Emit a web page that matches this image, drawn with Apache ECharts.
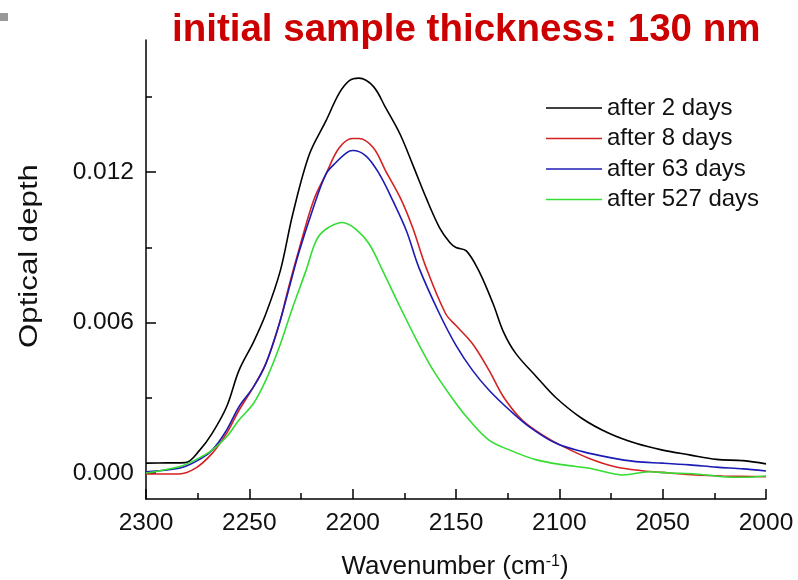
<!DOCTYPE html>
<html>
<head>
<meta charset="utf-8">
<script src="https://cdn.jsdelivr.net/npm/echarts@6/dist/echarts.min.js"></script>
<style>html,body{margin:0;padding:0;background:#fff}#chart{width:798px;height:580px}</style>
</head>
<body>
<div id="chart"></div>
<script>
const titleText = 'initial sample thickness: 130 nm';
const seriesNames = ['after 2 days', 'after 8 days', 'after 63 days', 'after 527 days'];
const xTickValues = [2000, 2050, 2100, 2150, 2200, 2250, 2300];
const yLabelValues = [0, 0.006, 0.012];
const yMinorValues = [0.003, 0.009, 0.015];

const wn2 = [2300,2290,2281,2274,2268,2261,2255,2248,2242,2235,2229,2221,2213,2206.5,2201.6,2197,2190,2184,2177,2171,2164.5,2158,2153,2150,2145,2139,2132,2127,2121,2111,2102,2089,2076,2063,2050,2037,2024,2011,2000];
const od2 = [0.00039,0.00040,0.00041,0.00091,0.00158,0.00264,0.00409,0.00522,0.00635,0.00807,0.01032,0.0127,0.01403,0.01515,0.01565,0.01575,0.01542,0.01456,0.0135,0.01231,0.01098,0.00979,0.00919,0.00899,0.00886,0.00807,0.00674,0.00562,0.00476,0.00383,0.00303,0.00217,0.00158,0.00118,0.00091,0.00072,0.00054,0.00049,0.00036];

const wn8 = [2300,2284,2276,2268,2261,2255,2248,2242,2235.5,2231,2226,2219,2213,2206.5,2200,2197,2190,2184,2177,2171,2164.5,2155,2150,2142,2134,2127,2118,2108,2098,2085.5,2073,2060,2047,2034,2021,2000];
const od8 = [-0.00004,-0.00004,0.00019,0.00078,0.00158,0.0025,0.00343,0.00436,0.00595,0.0074,0.0089,0.01085,0.01191,0.01297,0.01334,0.01334,0.01297,0.01204,0.01098,0.00979,0.0082,0.00635,0.00588,0.00515,0.00409,0.00303,0.00211,0.00151,0.00105,0.00058,0.00025,0.00009,0.0,-0.00008,-0.00012,-0.00015];

const wn63 = [2300,2284,2276,2268,2261,2255,2248,2242,2235.5,2231,2226,2219,2213,2209,2203,2200,2193.5,2187,2180.5,2174,2168,2158,2150,2142,2134,2124,2114.5,2101.6,2088.7,2076,2063,2050,2037,2024,2011,2000];
const od63 = [0.00005,0.00019,0.00045,0.00091,0.00171,0.00264,0.00343,0.00436,0.00595,0.0073,0.0088,0.01059,0.01191,0.01231,0.01277,0.01286,0.01264,0.01191,0.01085,0.00966,0.0082,0.00635,0.00509,0.00409,0.0033,0.0025,0.00184,0.00118,0.00085,0.00062,0.00045,0.00039,0.00032,0.00023,0.00016,0.00008];

const wn527 = [2300,2284,2276,2268,2261,2255,2248,2242,2235.5,2229,2222.6,2217.7,2213,2205,2198.4,2192,2185.5,2177,2169,2161,2150,2143.6,2134,2124,2111,2098,2085.5,2069,2056.5,2047,2034,2021,2011,2000];
const od527 = [0.0,0.00025,0.00052,0.00091,0.00144,0.00211,0.00277,0.0037,0.00502,0.00661,0.00807,0.00926,0.00972,0.00999,0.00972,0.00913,0.00807,0.00661,0.00529,0.00409,0.00277,0.00211,0.00131,0.00091,0.00052,0.00032,0.00019,-0.00008,0.00005,0.0,-0.00004,-0.00015,-0.00017,-0.00012];

const colors = ['#000000', '#d42222', '#1c1cb4', '#33dd33'];
const wnList = [wn2, wn8, wn63, wn527];
const odList = [od2, od8, od63, od527];

const pair = (xs, ys) => xs.map((x, i) => [x, ys[i]]);

const chart = echarts.init(document.getElementById('chart'), null, {renderer: 'canvas'});
const FONT = '"Liberation Sans", Arial, sans-serif';
const Y_MIN = -0.00104, Y_MAX = 0.01727;

chart.setOption({
  animation: false,
  backgroundColor: '#ffffff',
  title: {
    text: titleText,
    left: 172, top: 11, padding: 0,
    textStyle: {color: '#cc0000', fontFamily: FONT, fontWeight: 'bold', fontSize: 38.5}
  },
  legend: {
    orient: 'vertical',
    left: 541, top: 91,
    icon: 'rect',
    itemWidth: 56, itemHeight: 1.6, itemGap: 6.5,
    textStyle: {fontFamily: FONT, fontSize: 24, color: '#111', lineHeight: 24},
    data: seriesNames
  },
  grid: {left: 146, top: 40, right: 32, bottom: 81},
  xAxis: {
    type: 'value', inverse: true, min: 2000, max: 2300, interval: 50,
    axisLine: {show: true, onZero: false, lineStyle: {color: '#000', width: 1.5}},
    axisTick: {show: true, inside: true, length: 10, lineStyle: {color: '#000', width: 1.5}},
    minorTick: {show: true, splitNumber: 2, length: 6, lineStyle: {color: '#000', width: 1.5}},
    splitLine: {show: false},
    axisLabel: {margin: 12, fontFamily: FONT, fontSize: 24.5, color: '#111', formatter: v => String(v)}
  },
  yAxis: [{
    type: 'value', min: Y_MIN, max: Y_MAX,
    axisLine: {show: true, onZero: false, lineStyle: {color: '#000', width: 1.5}},
    axisTick: {show: true, inside: true, length: 10, customValues: yLabelValues, lineStyle: {color: '#000', width: 1.5}},
    splitLine: {show: false},
    axisLabel: {margin: 12, fontFamily: FONT, fontSize: 24.5, color: '#111', customValues: yLabelValues,
      formatter: v => v.toFixed(3)}
  }, {
    type: 'value', min: Y_MIN, max: Y_MAX, position: 'left', offset: 0,
    axisLine: {show: false},
    axisTick: {show: true, inside: true, length: 6, customValues: yMinorValues, lineStyle: {color: '#000', width: 1.5}},
    splitLine: {show: false},
    axisLabel: {show: false}
  }],
  graphic: [
    {type: 'rect', shape: {x: 0, y: 13, width: 8, height: 8}, style: {fill: '#999'}},
    {type: 'text', x: 30, y: 256, rotation: Math.PI / 2, scaleX: 1.2,
      style: {text: 'Optical depth', font: '26px "Liberation Sans", Arial, sans-serif', fill: '#111',
        textAlign: 'center', textVerticalAlign: 'middle'}},
    {type: 'text', x: 455, y: 567,
      style: {text: '{n|Wavenumber (cm}{s|-1}{n|)}', textAlign: 'center', textVerticalAlign: 'middle',
        rich: {n: {font: '26px "Liberation Sans", Arial, sans-serif', fill: '#111'},
               s: {font: '16px "Liberation Sans", Arial, sans-serif', fill: '#111', verticalAlign: 'top', padding: [0,0,10,0]}}}}
  ],
  series: seriesNames.map((name, i) => ({
    name, type: 'line', data: pair(wnList[i], odList[i]),
    smooth: 0.35, symbol: 'none', showSymbol: false,
    lineStyle: {color: colors[i], width: 1.6}, itemStyle: {color: colors[i]},
    clip: true
  }))
});
</script>
</body>
</html>
